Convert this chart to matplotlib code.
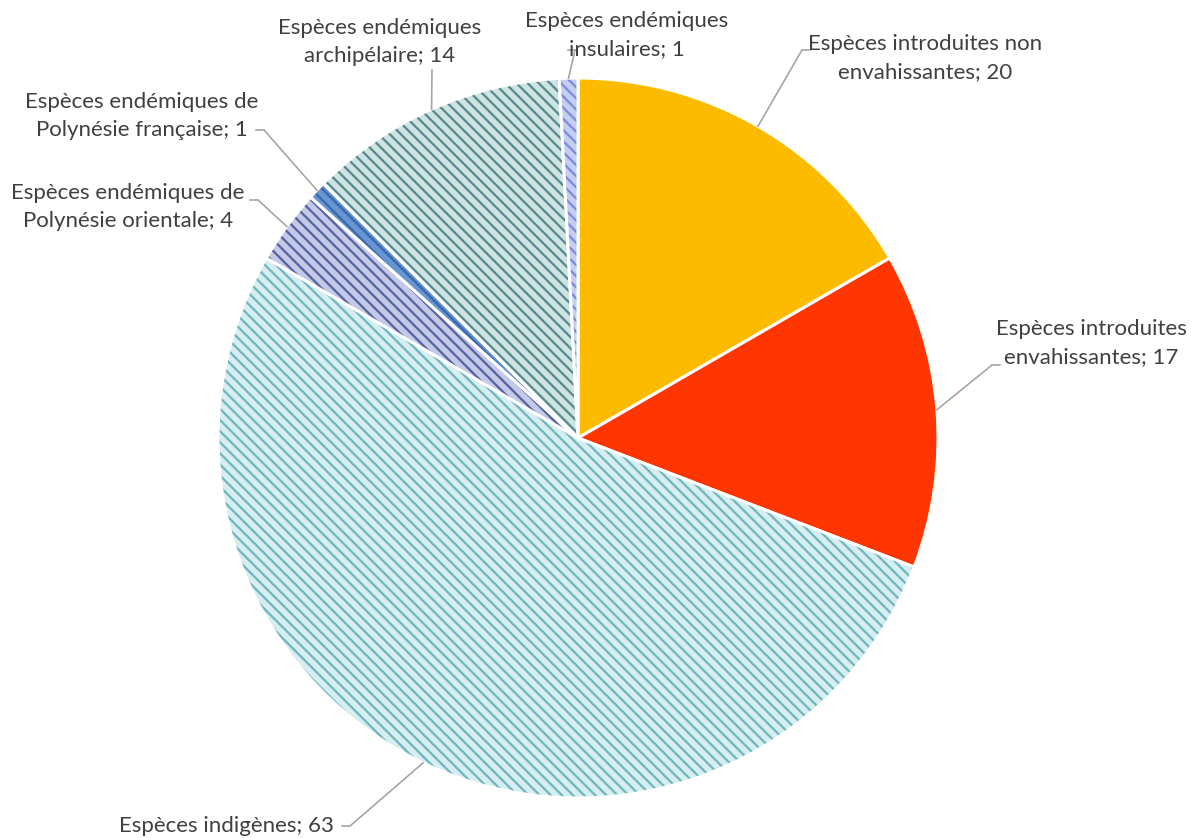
import matplotlib.pyplot as plt
import numpy as np
from matplotlib.patches import Wedge

plt.rcParams['font.family'] = ['Lato', 'DejaVu Sans']

# Données
etiquettes = [
    "Espèces introduites non\nenvahissantes",
    "Espèces introduites\nenvahissantes",
    "Espèces indigènes",
    "Espèces endémiques de\nPolynésie orientale",
    "Espèces endémiques de\nPolynésie française",
    "Espèces endémiques\narchipélaire",
    "Espèces endémiques\ninsulaires",
]
valeurs = [20, 17, 63, 4, 1, 14, 1]

couleurs = ['#fdbb00', '#ff3502', '#d7eef1', '#c3c9e6', '#6595d2', '#cfe3e3', '#c5cdf0']
hachures_col = [None, None, '#6fb6bf', '#5562a0', '#3a68a8', '#558a8c', '#7c8ae0']

# position du texte (px) et coude de la ligne de rappel
pos_texte = [(925, 58), (1091, 343), (226, 826), (128, 207), (142, 116), (380, 42), (627, 35)]
coudes = [(802, 50), (992, 365), (350, 826), (258, 200), (264, 130), (432, 70), (575, 50)]

W, H = 1194, 838
cx, cy, R = 578, H - 438, 360

fig = plt.figure(figsize=(W / 100, H / 100), dpi=100)
ax = fig.add_axes([0, 0, 1, 1])
ax.set_xlim(0, W)
ax.set_ylim(0, H)
ax.set_aspect('equal')
ax.axis('off')

plt.rcParams['hatch.linewidth'] = 1.6

total = sum(valeurs)
debut = 90.0
for i, v in enumerate(valeurs):
    ang = 360.0 * v / total
    t1, t2 = debut - ang, debut
    ax.add_patch(Wedge((cx, cy), R, t1, t2, facecolor=couleurs[i], edgecolor='none'))
    if hachures_col[i]:
        ax.add_patch(Wedge((cx, cy), R, t1, t2, facecolor='none',
                           edgecolor=hachures_col[i], linewidth=0, hatch='\\\\\\'))
    ax.add_patch(Wedge((cx, cy), R, t1, t2, facecolor='none', edgecolor='white', linewidth=2.2))

    milieu = np.deg2rad((t1 + t2) / 2)
    px, py = cx + R * np.cos(milieu), cy + R * np.sin(milieu)
    kx, ky = coudes[i]
    ky = H - ky
    tx, ty = pos_texte[i]
    ax.plot([px, kx], [py, ky], color='#a6a6a6', lw=1.2, zorder=5)
    # petit segment horizontal vers le texte
    if i in (0, 1):
        ax.plot([kx, kx + 8], [ky, ky], color='#a6a6a6', lw=1.2)
    elif i in (2, 3, 4):
        ax.plot([kx, kx - 8], [ky, ky], color='#a6a6a6', lw=1.2)
    elif i == 6:
        ax.plot([kx, kx - 7], [ky, ky], color='#a6a6a6', lw=1.2)
    ax.text(tx, H - ty, f"{etiquettes[i]}; {v}", ha='center', va='center',
            fontsize=16, color='#404040', linespacing=1.55)
    debut = t1

fig.savefig('out.png', dpi=100)
